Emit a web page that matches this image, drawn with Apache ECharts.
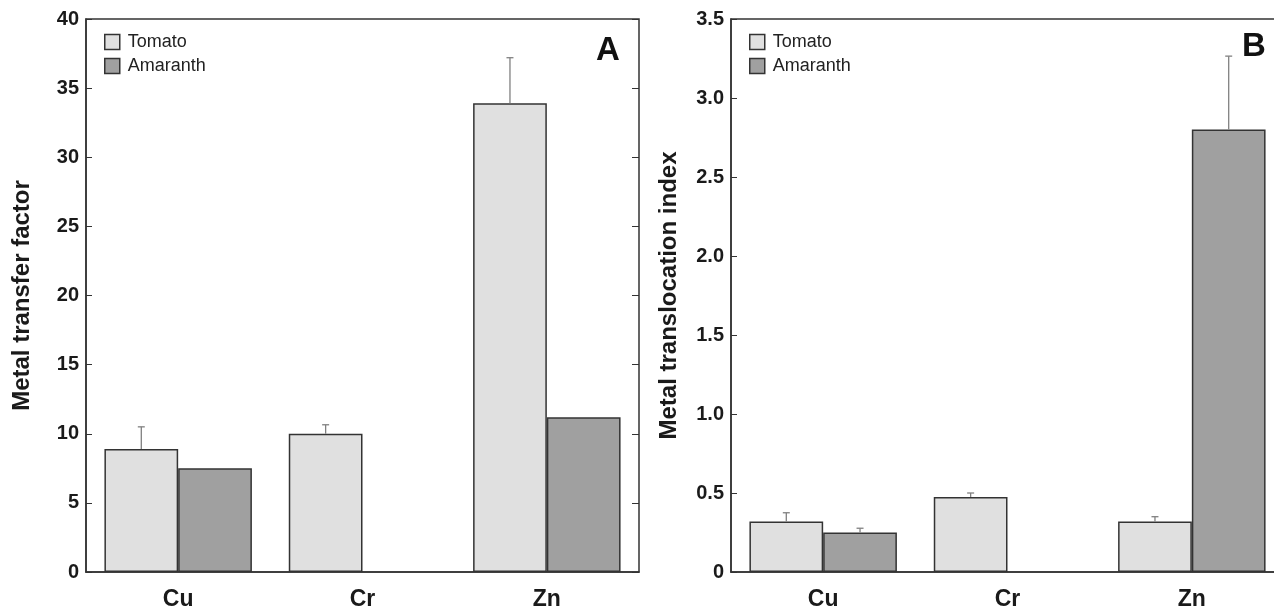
<!DOCTYPE html>
<html>
<head>
<meta charset="utf-8">
<script src="https://cdn.jsdelivr.net/npm/echarts@6/dist/echarts.min.js"></script>
<style>
html, body { margin: 0; padding: 0; background: #fff; overflow: hidden; }
/* panel B runs past the right edge of the window in the original figure */
#main { width: 1290px; height: 612px; }
</style>
</head>
<body>
<div id="main"></div>
<script>
// data
var categories = ['Cu', 'Cr', 'Zn'];
var seriesNames = ['Tomato', 'Amaranth'];

// panel A: metal transfer factor
var tomatoA = [8.9, 10.0, 33.9];
var tomatoErrA = [1.6, 0.65, 3.3];
var amaranthA = [7.5, null, 11.2];
var amaranthErrA = [0, null, 0];

// panel B: metal translocation index
var tomatoB = [0.32, 0.475, 0.32];
var tomatoErrB = [0.055, 0.025, 0.03];
var amaranthB = [0.25, null, 2.8];
var amaranthErrB = [0.027, null, 0.465];

var yTicksA = { min: 0, max: 40, interval: 5 };
var yTicksB = { min: 0, max: 3.5, interval: 0.5 };

var font = 'Liberation Sans, Arial, Helvetica, sans-serif';
var colTomato = '#e0e0e0';
var colAmaranth = '#a0a0a0';
var edge = '#333333';

// error bars: side -1 = left bar of the pair, +1 = right bar
function errorData(vals, errs) {
    return categories.map(function (c, i) {
        return [i, vals[i], errs[i]];
    }).filter(function (d) { return d[1] != null && d[2] > 0; });
}
function errorRender(side) {
    return function (params, api) {
        var i = api.value(0), v = api.value(1), e = api.value(2);
        var base = api.coord([i, v]);
        var top = api.coord([i, v + e]);
        var band = api.size([1, 0])[0];
        var cx = base[0] + side * band * 0.2;
        var st = { stroke: '#808080', lineWidth: 1.3 };
        return {
            type: 'group',
            children: [
                { type: 'line', shape: { x1: cx, y1: base[1], x2: cx, y2: top[1] }, style: st },
                { type: 'line', shape: { x1: cx - 3.5, y1: top[1], x2: cx + 3.5, y2: top[1] }, style: st }
            ]
        };
    };
}

function barSeries(name, data, color, idx) {
    return {
        name: name, type: 'bar', xAxisIndex: idx, yAxisIndex: idx,
        data: data, barGap: 0, barCategoryGap: '20%',
        itemStyle: { color: color, borderColor: edge, borderWidth: 1.5 },
        emphasis: { disabled: true }
    };
}
function errSeries(vals, errs, side, idx) {
    return {
        type: 'custom', xAxisIndex: idx, yAxisIndex: idx, z: 3,
        renderItem: errorRender(side), data: errorData(vals, errs),
        encode: { x: 0, y: 1 }, silent: true
    };
}

function xAxes(grid) {
    return [{
        type: 'category', gridIndex: grid, data: categories, position: 'bottom',
        axisLine: { lineStyle: { color: edge, width: 1.5 } },
        axisTick: { inside: true, length: 9, lineStyle: { color: edge, width: 1 } },
        axisLabel: { color: '#1a1a1a', fontFamily: font, fontWeight: 'bold', fontSize: 23, margin: 16 }
    }, {
        type: 'category', gridIndex: grid, data: categories, position: 'top',
        axisLine: { show: false },
        axisTick: { inside: true, length: 9, lineStyle: { color: edge, width: 1 } },
        axisLabel: { show: false }
    }];
}
function yAxes(grid, ticks, name, gap, fmt) {
    return [{
        type: 'value', gridIndex: grid, position: 'left',
        min: ticks.min, max: ticks.max, interval: ticks.interval,
        name: name, nameLocation: 'middle', nameGap: gap,
        nameTextStyle: { color: '#1a1a1a', fontFamily: font, fontWeight: 'bold', fontSize: 24 },
        splitLine: { show: false },
        axisLine: { show: true, lineStyle: { color: edge, width: 1.5 } },
        axisTick: { show: true, inside: true, length: 6, lineStyle: { color: edge, width: 1 } },
        axisLabel: { color: '#1a1a1a', fontFamily: font, fontWeight: 'bold', fontSize: 20, margin: 7, formatter: fmt }
    }, {
        type: 'value', gridIndex: grid, position: 'right',
        min: ticks.min, max: ticks.max, interval: ticks.interval,
        splitLine: { show: false },
        axisLine: { show: false },
        axisTick: { show: true, inside: true, length: 7, lineStyle: { color: edge, width: 1 } },
        axisLabel: { show: false }
    }];
}

var dom = document.getElementById('main');
var myChart = echarts.init(dom, null, { renderer: 'canvas' });

var xa = xAxes(0), xb = xAxes(1);
var ya = yAxes(0, yTicksA, 'Metal transfer factor', 52, null);
var yb = yAxes(1, yTicksB, 'Metal translocation index', 50, function (v) {
    return v === 0 ? '0' : v.toFixed(1);
});

var legendText = { color: '#222', fontFamily: font, fontSize: 18, padding: [0, 0, 0, 3] };
function legendAt(x) {
    return {
        data: seriesNames, left: x, top: 28, orient: 'vertical', icon: 'rect',
        itemWidth: 15, itemHeight: 15, itemGap: 6,
        textStyle: legendText, selectedMode: false,
        itemStyle: { borderColor: edge, borderWidth: 1.5 }
    };
}
var letterStyle = { color: '#111', fontFamily: font, fontWeight: 'bold', fontSize: 33 };

var option = {
    animation: false,
    backgroundColor: '#fff',
    title: [
        { text: 'A', left: 591, top: 29, textStyle: letterStyle },
        { text: 'B', left: 1237, top: 25, textStyle: letterStyle }
    ],
    legend: [legendAt(99), legendAt(744)],
    grid: [
        { left: 86, top: 19, width: 553, height: 553, show: true, borderColor: edge, borderWidth: 1.5, backgroundColor: 'transparent' },
        { left: 731, top: 19, width: 553, height: 553, show: true, borderColor: edge, borderWidth: 1.5, backgroundColor: 'transparent' }
    ],
    xAxis: [xa[0], xa[1], xb[0], xb[1]],
    yAxis: [ya[0], ya[1], yb[0], yb[1]],
    series: [
        barSeries('Tomato', tomatoA, colTomato, 0),
        barSeries('Amaranth', amaranthA, colAmaranth, 0),
        errSeries(tomatoA, tomatoErrA, -1, 0),
        errSeries(amaranthA, amaranthErrA, 1, 0),
        barSeries('Tomato', tomatoB, colTomato, 2),
        barSeries('Amaranth', amaranthB, colAmaranth, 2),
        errSeries(tomatoB, tomatoErrB, -1, 2),
        errSeries(amaranthB, amaranthErrB, 1, 2)
    ]
};

if (option && typeof option === 'object') {
    myChart.setOption(option, true);
}
</script>
</body>
</html>
